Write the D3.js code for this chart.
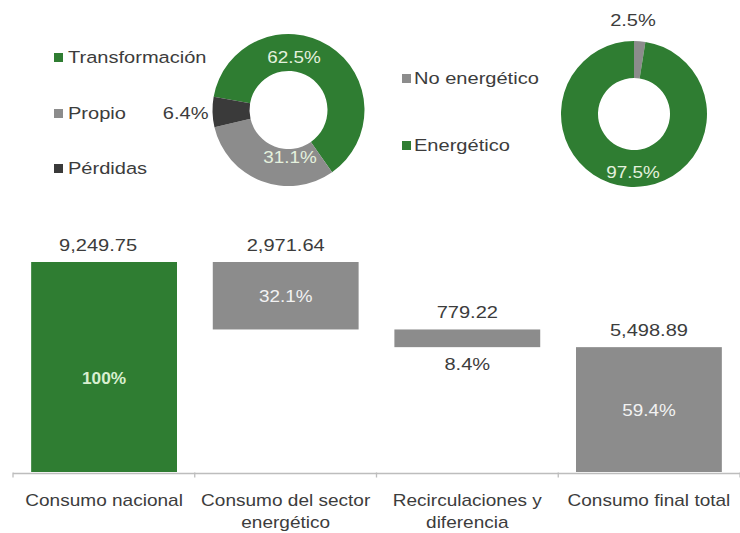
<!DOCTYPE html>
<html><head><meta charset="utf-8">
<script src="https://cdn.jsdelivr.net/npm/d3@7"></script>
<style>html,body{margin:0;padding:0;background:#fff;}svg{display:block;}</style>
</head><body>
<svg id="c" width="740" height="533"></svg>
<script>
const categories = ["Consumo nacional", "Consumo del sector energético", "Recirculaciones y diferencia", "Consumo final total"];
const categoryLines = [["Consumo nacional"], ["Consumo del sector", "energético"], ["Recirculaciones y", "diferencia"], ["Consumo final total"]];
const values = [9249.75, 2971.64, 779.22, 5498.89];
const valueLabels = ["9,249.75", "2,971.64", "779.22", "5,498.89"];
const pctLabels = ["100%", "32.1%", "8.4%", "59.4%"];
const kinds = ["total", "down", "down", "total"];

const donut1Labels = ["Transformación", "Propio", "Pérdidas"];
const donut1Values = [62.5, 31.1, 6.4];
const donut2Labels = ["No energético", "Energético"];
const donut2Values = [2.5, 97.5];

const GREEN = "#2f7d32", GRAY = "#8c8c8c", DARK = "#3a3a3a", TXT = "#3c3c3c", LIGHT = "#e4f1de";
const FONT = "Liberation Sans, Arial, sans-serif";
const SX = 1.18;

const svg = d3.select("#c");

function txt(g, x, y, s, opts = {}) {
  const t = g.append("text")
    .attr("transform", `translate(${x},${y}) scale(${opts.sx || SX},1)`)
    .attr("text-anchor", opts.anchor || "middle")
    .attr("font-family", FONT)
    .attr("font-size", opts.size || 17)
    .attr("fill", opts.fill || TXT)
    .text(s);
  if (opts.bold) t.attr("font-weight", "bold");
  return t;
}

// ---- Waterfall ----
const x = d3.scaleBand().domain(categories).range([13, 740]).paddingInner(0.197).paddingOuter(0.1);
const y = d3.scaleLinear().domain([0, values[0]]).range([472, 262]);

let running = 0;
const bars = values.map((v, i) => {
  let lo, hi;
  if (kinds[i] === "total") { lo = 0; hi = v; running = v; }
  else { hi = running; lo = running - v; running = lo; }
  return { cat: categories[i], v, lo, hi, i };
});

const g = svg.append("g");
g.selectAll("rect.bar").data(bars).enter().append("rect")
  .attr("class", "bar")
  .attr("x", d => x(d.cat))
  .attr("width", x.bandwidth())
  .attr("y", d => y(d.hi))
  .attr("height", d => y(d.lo) - y(d.hi))
  .attr("fill", d => d.i === 0 ? GREEN : GRAY);

// axis
const axisY = 473.5;
g.append("line").attr("x1", 13).attr("x2", 740).attr("y1", axisY).attr("y2", axisY)
  .attr("stroke", "#bdbdbd").attr("stroke-width", 1.3);
const bounds = d3.range(5).map(k => 13 + k * (727 / 4));
bounds.forEach(bx => {
  g.append("line").attr("x1", bx).attr("x2", bx).attr("y1", axisY - 1).attr("y2", axisY + 4)
    .attr("stroke", "#bdbdbd").attr("stroke-width", 1.3);
});

bars.forEach(d => {
  const cx = x(d.cat) + x.bandwidth() / 2;
  txt(g, d.i === 0 ? cx - 6 : cx, y(d.hi) - 11, valueLabels[d.i], { size: 17 });
  if (d.i === 2) {
    txt(g, cx, y(d.lo) + 23, pctLabels[d.i], { size: 17 });
  } else if (d.i === 0) {
    txt(g, cx, (y(d.hi) + y(d.lo)) / 2 + 17, pctLabels[d.i], { size: 16, fill: "#d8efcf", bold: true, sx: 1.08 });
  } else {
    txt(g, cx, (y(d.hi) + y(d.lo)) / 2 + 6, pctLabels[d.i], { size: 16, fill: "#f2f2f2" });
  }
  categoryLines[d.i].forEach((ln, k) => {
    txt(g, cx, 506 + k * 22, ln, { size: 17, sx: 1.12 });
  });
});

// ---- Donuts ----
function donut(cx, cy, rIn, rOut, vals, colors, startDeg) {
  const pie = d3.pie().sort(null).value(d => d)
    .startAngle(startDeg * Math.PI / 180).endAngle((startDeg + 360) * Math.PI / 180);
  const arc = d3.arc().innerRadius(rIn).outerRadius(rOut);
  const dg = svg.append("g").attr("transform", `translate(${cx},${cy})`);
  dg.selectAll("path").data(pie(vals)).enter().append("path")
    .attr("d", arc).attr("fill", (d, i) => colors[i]);
  return dg;
}

const d1 = donut(288.5, 110, 39, 76, donut1Values, [GREEN, GRAY, DARK], -80);
txt(d1, 5.5, -47, donut1Values[0].toFixed(1) + "%", { size: 16, fill: LIGHT });
txt(d1, 1.5, 53, donut1Values[1].toFixed(1) + "%", { size: 16, fill: LIGHT });
txt(d1, -80, 9, donut1Values[2].toFixed(1) + "%", { size: 17, anchor: "end" });

const d2 = donut(634, 114, 36, 73, donut2Values, [GRAY, GREEN], 0);
txt(d2, -1, -88, donut2Values[0].toFixed(1) + "%", { size: 17 });
txt(d2, -1, 64, donut2Values[1].toFixed(1) + "%", { size: 16, fill: LIGHT });

// ---- Legends ----
const leg1 = svg.append("g");
const leg1Y = [57, 113, 168];
const leg1C = [GREEN, GRAY, DARK];
donut1Labels.forEach((l, i) => {
  leg1.append("rect").attr("x", 54).attr("y", leg1Y[i] - 4).attr("width", 9).attr("height", 9).attr("fill", leg1C[i]);
  txt(leg1, 68, leg1Y[i] + 6, l, { anchor: "start", size: 17 });
});
const leg2 = svg.append("g");
const leg2Y = [78, 145];
const leg2C = [GRAY, GREEN];
donut2Labels.forEach((l, i) => {
  leg2.append("rect").attr("x", 402).attr("y", leg2Y[i] - 4).attr("width", 9).attr("height", 9).attr("fill", leg2C[i]);
  txt(leg2, 414, leg2Y[i] + 6, l, { anchor: "start", size: 17 });
});
</script>
</body></html>
